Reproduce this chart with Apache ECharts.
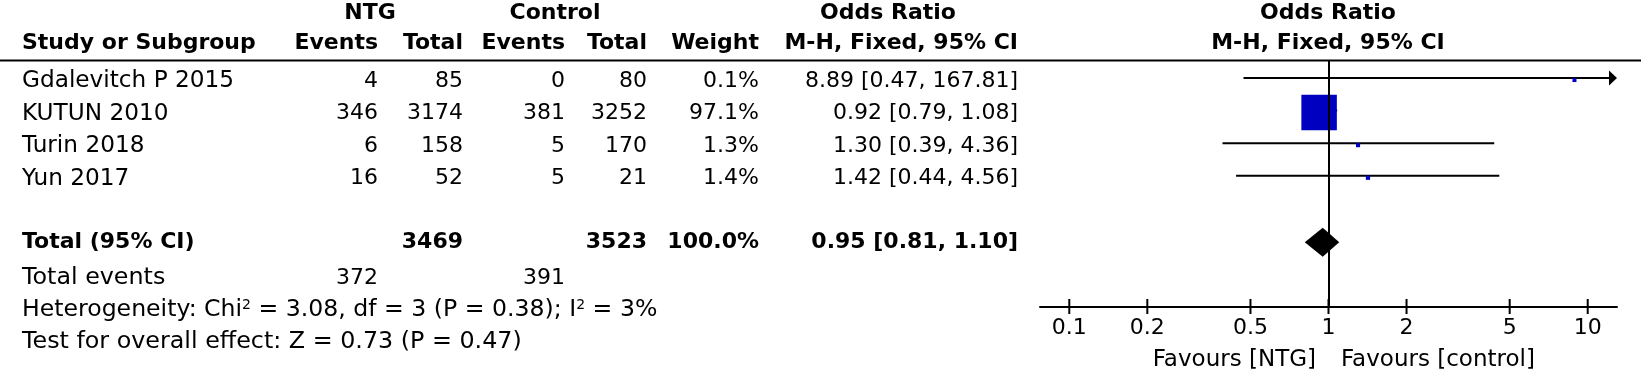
<!DOCTYPE html>
<html>
<head>
<meta charset="utf-8">
<script src="https://cdn.jsdelivr.net/npm/echarts@6/dist/echarts.min.js"></script>
<style>
    html, body { margin: 0; padding: 0; background: #fff; }
    #chart { width: 1641px; height: 369px; }
</style>
</head>
<body>
<div id="chart"></div>
<script>
// study rows
const studies = ["Gdalevitch P 2015", "KUTUN 2010", "Turin 2018", "Yun 2017"];
const ntgEvents = [4, 346, 6, 16];
const ntgTotal = [85, 3174, 158, 52];
const ctlEvents = [0, 381, 5, 5];
const ctlTotal = [80, 3252, 170, 21];
const weights = [0.1, 97.1, 1.3, 1.4];
const orEst = [8.89, 0.92, 1.30, 1.42];
const orLow = [0.47, 0.79, 0.39, 0.44];
const orHigh = [167.81, 1.08, 4.36, 4.56];

// pooled result
const totals = [3469, 3523];
const totalEvents = [372, 391];
const pooled = [0.95, 0.81, 1.10]; // est, low, high
const pooledWeight = 100.0;
const hetText = "Heterogeneity: Chi{sup|2} = 3.08, df = 3 (P = 0.38); I{sup|2} = 3%";
const effectText = "Test for overall effect: Z = 0.73 (P = 0.47)";

// axis
const tickValues = [0.1, 0.2, 0.5, 1, 2, 5, 10];
const axisLabels = ["Favours [NTG]", "Favours [control]"];

const FONT = '"DejaVu Sans", Verdana, sans-serif';
const SIZE = 22;
const rowY = (i) => 81 + 32.5 * i;

const fmt2 = (v) => v.toFixed(2);
const orText = (e, l, h) => `${fmt2(e)} [${fmt2(l)}, ${fmt2(h)}]`;

function txt(x, y, text, align, bold, size) {
    return {
        type: "text",
        silent: true,
        style: {
            text: text,
            x: x,
            y: y,
            align: align,
            textAlign: align,
            verticalAlign: "middle",
            textVerticalAlign: "middle",
            fontSize: size || SIZE,
            fontFamily: FONT,
            fontWeight: bold ? "bold" : "normal",
            fill: "#000",
        },
    };
}

const graphics = [];
// header
graphics.push(txt(370, 13, "NTG", "center", true));
graphics.push(txt(555, 13, "Control", "center", true));
graphics.push(txt(888, 13, "Odds Ratio", "center", true));
graphics.push(txt(1328, 13, "Odds Ratio", "center", true));
graphics.push(txt(22, 43, "Study or Subgroup", "left", true));
graphics.push(txt(378, 43, "Events", "right", true));
graphics.push(txt(463, 43, "Total", "right", true));
graphics.push(txt(565, 43, "Events", "right", true));
graphics.push(txt(647, 43, "Total", "right", true));
graphics.push(txt(759, 43, "Weight", "right", true));
graphics.push(txt(1018, 43, "M-H, Fixed, 95% CI", "right", true));
graphics.push(txt(1328, 43, "M-H, Fixed, 95% CI", "center", true));
graphics.push({
    type: "line",
    silent: true,
    shape: { x1: 0, y1: 60.5, x2: 1641, y2: 60.5 },
    style: { stroke: "#000", lineWidth: 2 },
});

// study rows
studies.forEach((s, i) => {
    const y = rowY(i);
    graphics.push(txt(22, y, s, "left", false, 23.2));
    graphics.push(txt(378, y, String(ntgEvents[i]), "right", false));
    graphics.push(txt(463, y, String(ntgTotal[i]), "right", false));
    graphics.push(txt(565, y, String(ctlEvents[i]), "right", false));
    graphics.push(txt(647, y, String(ctlTotal[i]), "right", false));
    graphics.push(txt(759, y, weights[i].toFixed(1) + "%", "right", false));
    graphics.push(txt(1018, y, orText(orEst[i], orLow[i], orHigh[i]), "right", false));
});

// totals
const yTot = 242;
graphics.push(txt(22, yTot, "Total (95% CI)", "left", true));
graphics.push(txt(463, yTot, String(totals[0]), "right", true));
graphics.push(txt(647, yTot, String(totals[1]), "right", true));
graphics.push(txt(759, yTot, pooledWeight.toFixed(1) + "%", "right", true));
graphics.push(txt(1018, yTot, orText(pooled[0], pooled[1], pooled[2]), "right", true));
graphics.push(txt(22, 278, "Total events", "left", false, 23.8));
graphics.push(txt(378, 278, String(totalEvents[0]), "right", false));
graphics.push(txt(565, 278, String(totalEvents[1]), "right", false));
const het = txt(22, 310, hetText, "left", false, 23.6);
het.style.rich = { sup: { fontSize: 14, fontFamily: FONT, verticalAlign: "top", lineHeight: 14 } };
graphics.push(het);
graphics.push(txt(22, 342, effectText, "left", false, 23.8));

// favours labels
graphics.push(txt(1316, 360, axisLabels[0], "right", false, 23));
graphics.push(txt(1341, 360, axisLabels[1], "left", false, 23));

const chart = echarts.init(document.getElementById("chart"));

chart.setOption({
    animation: false,
    backgroundColor: "#fff",
    grid: { left: 1040, right: 24, top: 60, bottom: 62 },
    xAxis: {
        type: "log",
        logBase: 10,
        min: Math.pow(10, -1.113),
        max: Math.pow(10, 1.113),
        axisLine: { show: true, onZero: false, lineStyle: { color: "#000", width: 2 } },
        axisTick: { show: false },
        axisLabel: { show: false },
        splitLine: { show: false },
    },
    yAxis: {
        type: "value",
        min: -0.6,
        max: 6.985,
        inverse: true,
        show: false,
    },
    graphic: graphics,
    series: [
        {
            // confidence intervals and weighted boxes
            type: "custom",
            clip: false,
            data: studies.map((s, i) => [orLow[i], orHigh[i], i, orEst[i], weights[i]]),
            encode: { x: [0, 1, 3], y: 2 },
            renderItem: function (params, api) {
                const lo = api.value(0);
                const hi = api.value(1);
                const row = api.value(2);
                const est = api.value(3);
                const w = api.value(4);
                const xMin = params.coordSys.x;
                const xMax = params.coordSys.x + params.coordSys.width;
                const y = api.coord([1, row])[1];
                let x1 = api.coord([lo, row])[0];
                let x2 = api.coord([hi, row])[0];
                const arrowL = x1 < xMin;
                const arrowR = x2 > xMax;
                x1 = Math.max(x1, xMin);
                x2 = Math.min(x2, xMax);
                const ly = y - 1.5;
                const children = [
                    {
                        type: "line",
                        shape: { x1: arrowL ? x1 + 8 : x1, y1: ly, x2: arrowR ? x2 - 8 : x2, y2: ly },
                        style: { stroke: "#000", lineWidth: 2 },
                    },
                ];
                if (arrowR) {
                    children.push({
                        type: "polygon",
                        shape: { points: [[x2, ly], [x2 - 8, ly - 7.5], [x2 - 8, ly + 7.5]] },
                        style: { fill: "#000" },
                    });
                }
                if (arrowL) {
                    children.push({
                        type: "polygon",
                        shape: { points: [[x1, ly], [x1 + 8, ly - 7.5], [x1 + 8, ly + 7.5]] },
                        style: { fill: "#000" },
                    });
                }
                const cx = api.coord([est, row])[0];
                const sz = Math.max(4, 36 * Math.sqrt(w / 100));
                children.push({
                    type: "rect",
                    shape: { x: cx - sz / 2, y: y + 0.5 - sz / 2, width: sz, height: sz },
                    style: { fill: "#0000c0" },
                });
                return { type: "group", children: children };
            },
            z: 3,
        },
        {
            // pooled diamond and line of no effect
            type: "custom",
            clip: false,
            data: [[pooled[1], pooled[2], 5, pooled[0]]],
            encode: { x: [0, 1, 3], y: 2 },
            renderItem: function (params, api) {
                const row = api.value(2);
                const y = api.coord([1, row])[1];
                const xl = api.coord([api.value(0), row])[0];
                const xr = api.coord([api.value(1), row])[0];
                const xc = api.coord([api.value(3), row])[0];
                return {
                    type: "polygon",
                    shape: { points: [[xl, y], [xc, y - 14.5], [xr, y], [xc, y + 14.5]] },
                    style: { fill: "#000" },
                };
            },
            markLine: {
                silent: true,
                symbol: "none",
                label: { show: false },
                lineStyle: { color: "#000", width: 2, type: "solid" },
                data: [{ xAxis: 1 }],
            },
            z: 4,
        },
        {
            // axis ticks and labels
            type: "custom",
            clip: false,
            data: tickValues.map((v) => [v, 0]),
            encode: { x: 0, y: 1 },
            renderItem: function (params, api) {
                const x = api.coord([api.value(0), 0])[0];
                const yb = params.coordSys.y + params.coordSys.height;
                return {
                    type: "group",
                    children: [
                        {
                            type: "line",
                            shape: { x1: x, y1: yb - 8, x2: x, y2: yb + 7 },
                            style: { stroke: "#000", lineWidth: 2 },
                        },
                        {
                            type: "text",
                            style: {
                                text: String(api.value(0)),
                                x: x,
                                y: yb + 21,
                                align: "center",
                                verticalAlign: "middle",
                                fontSize: SIZE,
                                fontFamily: FONT,
                                fill: "#000",
                            },
                        },
                    ],
                };
            },
            z: 4,
        },
    ],
});
</script>
</body>
</html>
